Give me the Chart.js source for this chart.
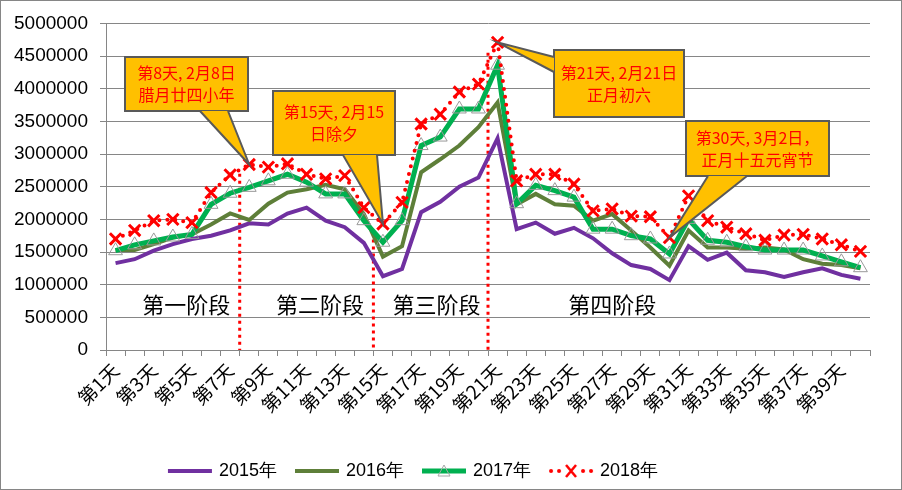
<!DOCTYPE html>
<html>
<head>
<meta charset="utf-8">
<script src="https://cdn.jsdelivr.net/npm/chart.js@4.4.1/dist/chart.umd.min.js"></script>
<style>
  body { margin: 0; background: #fff; }
  #wrap { position: relative; width: 902px; height: 490px; }
  #frame { position: absolute; left: 0; top: 0; width: 902px; height: 490px; box-sizing: border-box; border: 1px solid #868686; pointer-events: none; }
</style>
</head>
<body>
<div id="wrap">
  <canvas id="chart" width="902" height="490"></canvas>
  <div id="frame"></div>
</div>
<script>
const days = [];
for (let i = 1; i <= 40; i++) days.push('第' + i + '天');

const seriesNames = ['2015年', '2016年', '2017年', '2018年'];

const y2015 = [1330000, 1390000, 1520000, 1620000, 1700000, 1750000, 1830000, 1940000, 1920000, 2090000,
  2180000, 1980000, 1880000, 1640000, 1130000, 1240000, 2110000, 2270000, 2500000, 2640000,
  3240000, 1850000, 1950000, 1780000, 1870000, 1710000, 1480000, 1300000, 1240000, 1070000,
  1590000, 1380000, 1490000, 1220000, 1190000, 1120000, 1190000, 1250000, 1150000, 1090000];

const y2016 = [1530000, 1530000, 1620000, 1720000, 1770000, 1920000, 2090000, 1990000, 2240000, 2410000,
  2460000, 2530000, 2460000, 2080000, 1430000, 1590000, 2720000, 2920000, 3130000, 3410000,
  3790000, 2230000, 2390000, 2230000, 2210000, 1980000, 2080000, 1830000, 1570000, 1290000,
  1830000, 1570000, 1570000, 1550000, 1570000, 1540000, 1390000, 1320000, 1300000, 1250000];

const y2017 = [1520000, 1610000, 1670000, 1730000, 1770000, 2230000, 2400000, 2490000, 2590000, 2690000,
  2570000, 2390000, 2390000, 1980000, 1650000, 1980000, 3130000, 3260000, 3690000, 3690000,
  4360000, 2240000, 2520000, 2440000, 2340000, 1850000, 1850000, 1750000, 1700000, 1470000,
  2000000, 1680000, 1650000, 1580000, 1530000, 1530000, 1530000, 1440000, 1350000, 1260000];

const y2018 = [1700000, 1830000, 1980000, 2000000, 1950000, 2410000, 2680000, 2840000, 2800000, 2850000,
  2690000, 2620000, 2670000, 2180000, 1930000, 2260000, 3460000, 3610000, 3950000, 4070000,
  4710000, 2590000, 2690000, 2690000, 2540000, 2130000, 2160000, 2050000, 2040000, 1720000,
  2360000, 1980000, 1880000, 1780000, 1680000, 1760000, 1770000, 1700000, 1610000, 1510000];

const yTicks = [0, 500000, 1000000, 1500000, 2000000, 2500000, 3000000, 3500000, 4000000, 4500000, 5000000];

// stage dividers: day that starts a new stage, and the value where the dotted line starts
const dividerDays = [8, 15, 21];
const dividerTops = [2700000, 1800000, 4550000];

const stageNames = ['第一阶段', '第二阶段', '第三阶段', '第四阶段'];
const stageCenters = [4.7, 11.7, 17.8, 27];
const stageValue = 690000;

// callouts point at the 2018 value of that day
const calloutDays = [8, 15, 21, 30];
const calloutTexts = [
  ['第8天, 2月8日', '腊月廿四小年'],
  ['第15天, 2月15', '日除夕'],
  ['第21天, 2月21日', '正月初六'],
  ['第30天, 3月2日，', '正月十五元宵节'],
];
const calloutBoxes = [
  { x: 125, y: 57, w: 123, h: 54, base: [[200, 111], [228, 111]] },
  { x: 273, y: 91, w: 122, h: 64, base: [[343, 155], [377, 155]] },
  { x: 554, y: 50, w: 130, h: 67, base: [[554, 57], [554, 72]] },
  { x: 686, y: 121, w: 143, h: 55, base: [[708, 176], [747, 176]] },
];

const colors = ['#7030A0', '#5E7F39', '#00B050', '#FF0000'];

function legendIcon(i) {
  const c = document.createElement('canvas');
  c.width = 46; c.height = 20;
  const g = c.getContext('2d');
  g.strokeStyle = colors[i];
  if (i === 3) {
    g.fillStyle = colors[i];
    [3, 11, 35, 43].forEach((x) => { g.beginPath(); g.arc(x, 10, 2, 0, Math.PI * 2); g.fill(); });
    g.lineWidth = 2.5;
    g.beginPath();
    g.moveTo(18, 4); g.lineTo(28, 16); g.moveTo(28, 4); g.lineTo(18, 16);
    g.stroke();
  } else {
    g.lineWidth = i === 2 ? 5 : 4;
    g.beginPath(); g.moveTo(1, 10); g.lineTo(45, 10); g.stroke();
    if (i === 2) {
      g.strokeStyle = '#A6A6A6'; g.lineWidth = 1;
      g.beginPath(); g.moveTo(23, 4); g.lineTo(29, 15); g.lineTo(17, 15); g.closePath(); g.stroke();
    }
  }
  return c;
}

const annotations = {
  id: 'annotations',
  afterLayout(chart) {
    // legend in the original sits a bit left of centre
    chart.legend.left -= 21;
    chart.legend.right -= 21;
  },
  beforeDatasetsDraw(chart) {
    const { ctx } = chart;
    const xs = chart.scales.x, ys = chart.scales.y;
    ctx.save();
    ctx.strokeStyle = '#FF0000';
    ctx.lineWidth = 3;
    ctx.setLineDash([3, 4]);
    dividerDays.forEach((d, i) => {
      const x = (xs.getPixelForValue(d - 2) + xs.getPixelForValue(d - 1)) / 2;
      ctx.beginPath();
      ctx.moveTo(x, ys.getPixelForValue(dividerTops[i]));
      ctx.lineTo(x, ys.getPixelForValue(0));
      ctx.stroke();
    });
    ctx.restore();
  },
  afterDatasetsDraw(chart) {
    const { ctx } = chart;
    const xs = chart.scales.x, ys = chart.scales.y;
    ctx.save();
    ctx.fillStyle = '#000';
    ctx.font = '22px "Noto Sans CJK SC"';
    ctx.textAlign = 'center';
    ctx.textBaseline = 'middle';
    stageNames.forEach((name, i) => {
      const x = xs.getPixelForValue(stageCenters[i] - 1);
      ctx.fillText(name, x, ys.getPixelForValue(stageValue));
    });

    calloutBoxes.forEach((b, i) => {
      const d = calloutDays[i];
      const tx = xs.getPixelForValue(d - 1);
      const ty = ys.getPixelForValue(y2018[d - 1]);
      const pointer = () => {
        ctx.beginPath();
        ctx.moveTo(b.base[0][0], b.base[0][1]);
        ctx.lineTo(tx, ty);
        ctx.lineTo(b.base[1][0], b.base[1][1]);
      };
      ctx.fillStyle = '#FFC000';
      ctx.strokeStyle = '#595959';
      ctx.lineWidth = 2;
      ctx.fillRect(b.x, b.y, b.w, b.h);
      ctx.strokeRect(b.x, b.y, b.w, b.h);
      pointer();
      ctx.closePath();
      ctx.fill();
      pointer();
      ctx.stroke();

      ctx.fillStyle = '#FF0000';
      ctx.font = '16px "Noto Sans CJK SC"';
      const cy = b.y + b.h / 2;
      ctx.fillText(calloutTexts[i][0], b.x + b.w / 2, cy - 11);
      ctx.fillText(calloutTexts[i][1], b.x + b.w / 2, cy + 11);
    });
    ctx.restore();
  },
};

new Chart(document.getElementById('chart'), {
  type: 'line',
  data: {
    labels: days,
    datasets: [
      {
        label: seriesNames[0], data: y2015, order: 3,
        borderColor: colors[0], borderWidth: 4, pointRadius: 0,
      },
      {
        label: seriesNames[1], data: y2016, order: 2,
        borderColor: colors[1], borderWidth: 4, pointRadius: 0,
      },
      {
        label: seriesNames[2], data: y2017, order: 1,
        borderColor: colors[2], borderWidth: 5,
        pointStyle: 'triangle', pointRadius: 8, pointBorderWidth: 1,
        pointBorderColor: '#999999', pointBackgroundColor: 'rgba(255,255,255,0)',
      },
      {
        label: seriesNames[3], data: y2018, order: 0,
        borderColor: colors[3], borderWidth: 4, borderDash: [0, 8], borderCapStyle: 'round',
        pointStyle: 'crossRot', pointRadius: 8, pointBorderWidth: 3, pointBorderColor: colors[3],
      },
    ],
  },
  options: {
    responsive: false,
    animation: false,
    layout: { padding: { left: 0, right: 32, top: 23, bottom: 0 } },
    plugins: {
      tooltip: { enabled: false },
      legend: {
        position: 'bottom',
        labels: {
          usePointStyle: true,
          pointStyleWidth: 40,
          padding: 20,
          color: '#000',
          font: { family: '"Liberation Sans"', size: 18 },
          generateLabels: () => seriesNames.map((name, i) => ({
            text: name, datasetIndex: i, pointStyle: legendIcon(i),
            fillStyle: colors[i], strokeStyle: colors[i], lineWidth: 0, hidden: false,
          })),
        },
      },
    },
    scales: {
      x: {
        offset: true,
        afterFit: (s) => { s.height = 92; },
        grid: { offset: true, drawOnChartArea: false, color: '#868686', tickLength: 6 },
        border: { color: '#868686' },
        ticks: {
          autoSkip: false, maxRotation: 45, minRotation: 45, color: '#000',
          font: { family: '"Noto Sans CJK SC"', size: 19 },
          callback: (v, i) => (i % 2 === 0 ? days[i] : ''),
        },
      },
      y: {
        min: 0, max: 5000000,
        afterFit: (s) => { s.width = 106; },
        afterBuildTicks: (s) => { s.ticks = yTicks.map((v) => ({ value: v })); },
        grid: { color: '#868686', tickLength: 6 },
        border: { color: '#868686' },
        ticks: {
          color: '#000', padding: 12,
          font: { family: '"Liberation Sans"', size: 19 },
          callback: (v) => String(v),
        },
      },
    },
  },
  plugins: [annotations],
});
</script>
</body>
</html>
